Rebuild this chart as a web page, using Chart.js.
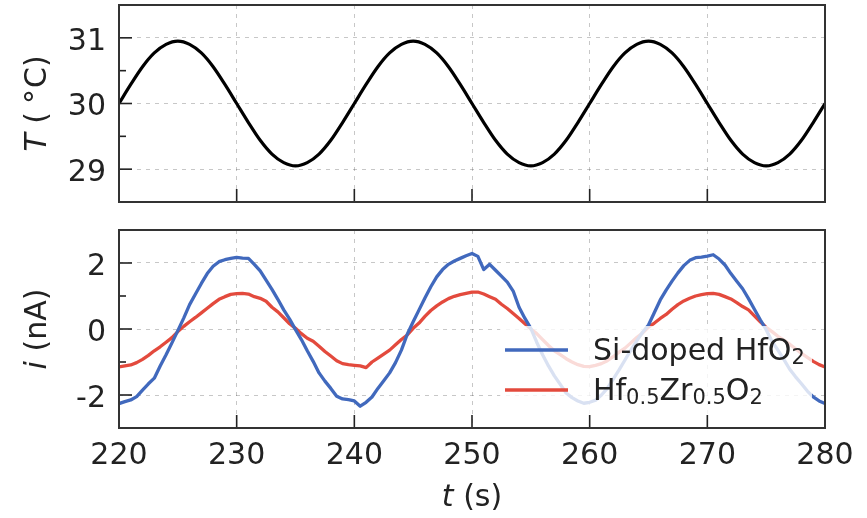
<!DOCTYPE html>
<html>
<head>
<meta charset="utf-8">
<script src="https://cdn.jsdelivr.net/npm/chart.js@4.4.0/dist/chart.umd.min.js"></script>
<style>
  html, body { margin: 0; padding: 0; background: #ffffff; }
  #wrap { position: relative; width: 867px; height: 518px; }
  #wrap canvas { position: absolute; left: 0; }
  #tempCanvas { top: 0; }
  #currentCanvas { top: 216px; }
</style>
</head>
<body>
<div id="wrap">
  <canvas id="tempCanvas" width="867" height="216"></canvas>
  <canvas id="currentCanvas" width="867" height="302"></canvas>
</div>
<script>
// ---- data -------------------------------------------------------------
const timeStart = 220;       // s
const tempStep = 1;          // s between temperature samples
const currentStep = 0.5;     // s between current samples

const xTicks = [220, 230, 240, 250, 260, 270, 280];
const tempTicks = [29, 30, 31];
const tempMinorTicks = [29.5, 30.5];
const currentTicks = [-2, 0, 2];
const currentMinorTicks = [-1, 1];

// temperature T (°C)
const temperature = [
  30.00, 30.29, 30.56, 30.77, 30.90, 30.95, 30.90, 30.77, 30.56, 30.29,
  30.00, 29.71, 29.44, 29.23, 29.10, 29.05, 29.10, 29.23, 29.44, 29.71,
  30.00, 30.29, 30.56, 30.77, 30.90, 30.95, 30.90, 30.77, 30.56, 30.29,
  30.00, 29.71, 29.44, 29.23, 29.10, 29.05, 29.10, 29.23, 29.44, 29.71,
  30.00, 30.29, 30.56, 30.77, 30.90, 30.95, 30.90, 30.77, 30.56, 30.29,
  30.00, 29.71, 29.44, 29.23, 29.10, 29.05, 29.10, 29.23, 29.44, 29.71,
  30.00
];

// pyroelectric current i (nA), Si-doped HfO2
const currentSiHfO2 = [
  -2.26, -2.20, -2.15, -2.05, -1.85, -1.66, -1.49, -1.12, -0.78, -0.42,
  -0.05,  0.33,  0.74,  1.06,  1.38,  1.68,  1.90,  2.04,  2.10,  2.14,
   2.17,  2.15,  2.14,  1.96,  1.76,  1.48,  1.20,  0.90,  0.58,  0.30,
  -0.02, -0.32, -0.66, -0.98, -1.33, -1.58, -1.80, -2.04, -2.12, -2.14,
  -2.18, -2.34, -2.22, -2.06, -1.80, -1.57, -1.33, -1.02, -0.64, -0.16,
   0.22,  0.58,  0.94,  1.28,  1.58,  1.80,  1.96,  2.06,  2.14,  2.22,
   2.29,  2.20,  1.80,  1.96,  1.78,  1.60,  1.42,  1.15,  0.66,  0.32,
   0.02, -0.40, -0.78, -1.12, -1.42, -1.68, -1.94, -2.08, -2.18, -2.25,
  -2.22, -2.16, -2.00, -1.80, -1.52, -1.24, -0.94, -0.64, -0.36, -0.10,
   0.12,  0.50,  0.88,  1.18,  1.45,  1.70,  1.92,  2.08,  2.16,  2.18,
   2.21,  2.25,  2.12,  1.94,  1.68,  1.45,  1.22,  0.92,  0.60,  0.28,
  -0.02, -0.38, -0.64, -0.92, -1.22, -1.45, -1.66, -1.88, -2.06, -2.18,
  -2.26
];

// pyroelectric current i (nA), Hf0.5Zr0.5O2
const currentHZO = [
  -1.15, -1.12, -1.09, -1.02, -0.92, -0.80, -0.66, -0.54, -0.40, -0.26,
  -0.08,  0.08,  0.22,  0.35,  0.49,  0.63,  0.77,  0.90,  0.98,  1.05,
   1.07,  1.08,  1.06,  0.98,  0.93,  0.84,  0.66,  0.52,  0.34,  0.16,
   0.02, -0.14, -0.28, -0.37, -0.52, -0.68, -0.82, -0.96, -1.05, -1.08,
  -1.10, -1.12, -1.17, -1.00, -0.88, -0.76, -0.64, -0.48, -0.32, -0.18,
   0.02,  0.18,  0.38,  0.56,  0.70,  0.82,  0.92,  0.99,  1.04,  1.08,
   1.12,  1.12,  1.06,  0.98,  0.90,  0.75,  0.62,  0.47,  0.32,  0.16,
   0.00, -0.14, -0.32, -0.50, -0.66, -0.78, -0.90, -1.00, -1.08, -1.13,
  -1.14, -1.10, -1.05, -0.96, -0.84, -0.70, -0.58, -0.42, -0.26, -0.12,
   0.06,  0.18,  0.32,  0.44,  0.60,  0.74,  0.85,  0.93,  1.00,  1.04,
   1.07,  1.08,  1.05,  0.98,  0.91,  0.80,  0.68,  0.58,  0.40,  0.22,
   0.05, -0.08, -0.22, -0.34, -0.46, -0.60, -0.74, -0.86, -0.98, -1.08,
  -1.15
];

const seriesColors = ['rgb(65,105,189)', 'rgb(227,74,61)'];

// ---- styling helpers --------------------------------------------------
const FAMILY = '"DejaVu Sans", "Liberation Sans", sans-serif';
const SIZE = 30;
const SUB = 21;
const INK = '#222222';
const SPINE = '#333333';
const GRID = 'rgba(0,0,0,0.22)';

const reg = `${SIZE}px ${FAMILY}`;
const ital = `italic ${SIZE}px ${FAMILY}`;
const sub = `${SUB}px ${FAMILY}`;

function toPoints(values, step) {
  return values.map((v, k) => ({ x: timeStart + k * step, y: v }));
}

function seg(ctx, x1, y1, x2, y2) {
  ctx.beginPath(); ctx.moveTo(x1, y1); ctx.lineTo(x2, y2); ctx.stroke();
}

function runsWidth(ctx, runs) {
  let w = 0;
  runs.forEach(r => { ctx.font = r.font; w += ctx.measureText(r.text).width + (r.gap || 0); });
  return w;
}

function drawRuns(ctx, runs, x, y) {
  runs.forEach(r => {
    ctx.font = r.font;
    ctx.fillText(r.text, x, y + (r.dy || 0));
    x += ctx.measureText(r.text).width + (r.gap || 0);
  });
}

function drawLegend(ctx, a, entries) {
  const left = a.right - 325, right = a.right - 13;
  const top = a.bottom - 102, bottom = a.bottom - 14;
  ctx.fillStyle = 'rgba(255,255,255,0.8)';
  ctx.fillRect(left, top, right - left, bottom - top);
  entries.forEach((e, k) => {
    const cy = a.bottom - 78 + 40 * k;
    ctx.strokeStyle = e.color;
    ctx.lineWidth = 3.3;
    seg(ctx, a.right - 320, cy, a.right - 257, cy);
    ctx.fillStyle = INK;
    ctx.textAlign = 'left';
    ctx.textBaseline = 'alphabetic';
    drawRuns(ctx, e.runs, a.right - 232, cy + 10);
  });
}

// inward ticks, full frame, axis titles and legend
const axesDecor = {
  id: 'axesDecor',
  afterDatasetsDraw(chart, args, o) {
    const { ctx, chartArea: a } = chart;
    const xs = chart.scales.x, ys = chart.scales.y;
    ctx.save();
    ctx.strokeStyle = INK;
    ctx.lineWidth = 1.6;
    o.xMajor.forEach(v => { const p = xs.getPixelForValue(v); seg(ctx, p, a.bottom, p, a.bottom - 13); });
    o.yMajor.forEach(v => { const p = ys.getPixelForValue(v); seg(ctx, a.left, p, a.left + 13, p); });
    o.yMinor.forEach(v => { const p = ys.getPixelForValue(v); seg(ctx, a.left, p, a.left + 7, p); });

    if (o.legend) drawLegend(ctx, a, o.legend);

    ctx.strokeStyle = SPINE;
    ctx.lineWidth = 2;
    ctx.strokeRect(a.left, a.top, a.right - a.left, a.bottom - a.top);

    ctx.fillStyle = INK;
    ctx.textAlign = 'left';
    ctx.textBaseline = 'alphabetic';
    // rotated y-axis title
    const wy = runsWidth(ctx, o.yTitle);
    ctx.save();
    ctx.translate(46, (a.top + a.bottom) / 2);
    ctx.rotate(-Math.PI / 2);
    drawRuns(ctx, o.yTitle, -wy / 2, 0);
    ctx.restore();
    // x-axis title
    if (o.xTitle) {
      const wx = runsWidth(ctx, o.xTitle);
      drawRuns(ctx, o.xTitle, (a.left + a.right) / 2 - wx / 2, chart.height - 12.5);
    }
    ctx.restore();
  }
};

function xScale(height, showLabels) {
  return {
    type: 'linear', min: 220, max: 280,
    afterBuildTicks: s => { s.ticks = xTicks.map(v => ({ value: v })); },
    afterFit: s => { s.height = height; s.paddingLeft = 0; s.paddingRight = 0; s.paddingTop = 0; s.paddingBottom = 0; },
    grid: { color: GRID, lineWidth: 1, drawTicks: false },
    border: { display: false, dash: [4, 5] },
    ticks: {
      display: showLabels, color: INK, padding: 10, maxRotation: 0,
      font: { family: FAMILY, size: SIZE },
      callback: v => String(v)
    }
  };
}

function yScale(min, max, ticks) {
  return {
    type: 'linear', min, max,
    afterBuildTicks: s => { s.ticks = ticks.map(v => ({ value: v })); },
    afterFit: s => { s.width = 119; s.paddingLeft = 0; s.paddingRight = 0; s.paddingTop = 0; s.paddingBottom = 0; },
    grid: { color: GRID, lineWidth: 1, drawTicks: false },
    border: { display: false, dash: [4, 5] },
    ticks: {
      color: INK, padding: 13, labelOffset: 4,
      font: { family: FAMILY, size: SIZE },
      callback: v => String(v)
    }
  };
}

const common = {
  responsive: false, maintainAspectRatio: false, animation: false,
  devicePixelRatio: 1, events: []
};

// ---- temperature panel -----------------------------------------------
new Chart(document.getElementById('tempCanvas'), {
  type: 'line',
  data: {
    datasets: [{
      label: 'T',
      data: toPoints(temperature, tempStep),
      borderColor: '#000000', borderWidth: 3.2, pointRadius: 0,
      cubicInterpolationMode: 'monotone', borderJoinStyle: 'round'
    }]
  },
  options: {
    ...common,
    layout: { autoPadding: false, padding: { top: 5, right: 42, bottom: 0, left: 0 } },
    plugins: {
      legend: { display: false }, tooltip: { enabled: false },
      axesDecor: {
        xMajor: xTicks, yMajor: tempTicks, yMinor: tempMinorTicks,
        yTitle: [
          { text: 'T', font: ital },
          { text: ' (', font: reg, gap: 8 },
          { text: '°', font: reg, gap: 1 },
          { text: 'C)', font: reg }
        ]
      }
    },
    scales: { x: xScale(14, false), y: yScale(28.5, 31.5, tempTicks) }
  },
  plugins: [axesDecor]
});

// ---- current panel ----------------------------------------------------
new Chart(document.getElementById('currentCanvas'), {
  type: 'line',
  data: {
    datasets: [
      {
        label: 'Si-doped HfO₂',
        data: toPoints(currentSiHfO2, currentStep),
        borderColor: seriesColors[0], borderWidth: 3.3, pointRadius: 0,
        tension: 0, borderJoinStyle: 'round'
      },
      {
        label: 'Hf₀.₅Zr₀.₅O₂',
        data: toPoints(currentHZO, currentStep),
        borderColor: seriesColors[1], borderWidth: 3.3, pointRadius: 0,
        tension: 0, borderJoinStyle: 'round'
      }
    ]
  },
  options: {
    ...common,
    layout: { autoPadding: false, padding: { top: 14, right: 42, bottom: 0, left: 0 } },
    plugins: {
      legend: { display: false }, tooltip: { enabled: false },
      axesDecor: {
        xMajor: xTicks, yMajor: currentTicks, yMinor: currentMinorTicks,
        yTitle: [
          { text: 'i', font: ital },
          { text: ' (nA)', font: reg }
        ],
        xTitle: [
          { text: 't', font: ital },
          { text: ' (s)', font: reg }
        ],
        legend: [
          { color: seriesColors[0], runs: [
            { text: 'Si-doped HfO', font: reg },
            { text: '2', font: sub, dy: 4 }
          ] },
          { color: seriesColors[1], runs: [
            { text: 'Hf', font: reg },
            { text: '0.5', font: sub, dy: 4 },
            { text: 'Zr', font: reg },
            { text: '0.5', font: sub, dy: 4 },
            { text: 'O', font: reg },
            { text: '2', font: sub, dy: 4 }
          ] }
        ]
      }
    },
    scales: { x: xScale(90, true), y: yScale(-3, 3, currentTicks) }
  },
  plugins: [axesDecor]
});
</script>
</body>
</html>
